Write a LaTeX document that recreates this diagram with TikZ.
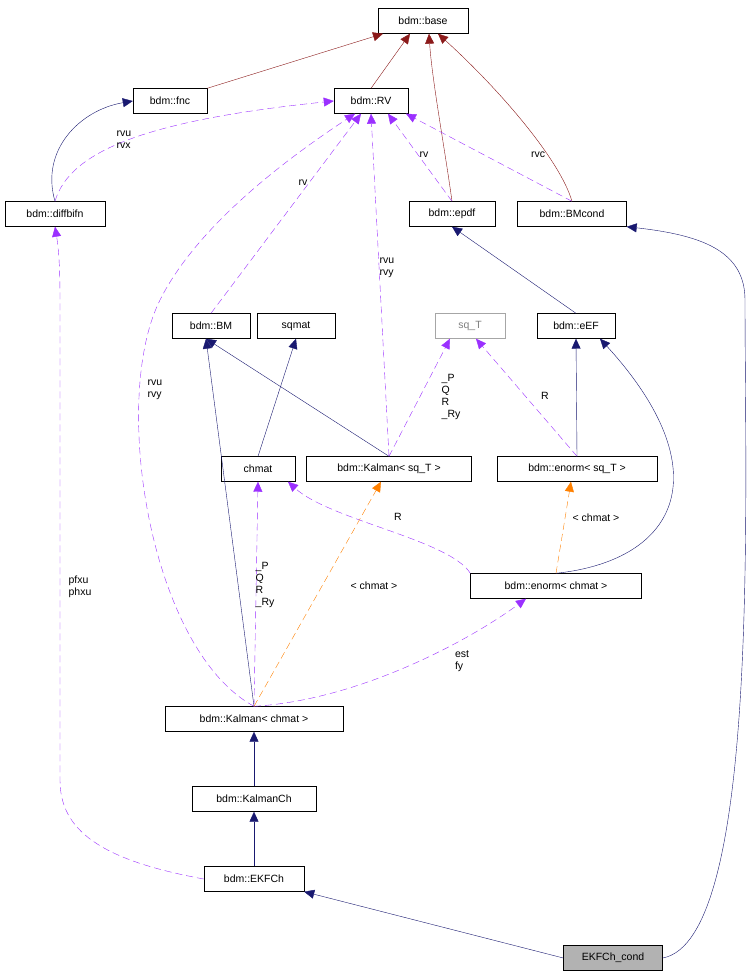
\documentclass[tikz,border=0pt]{standalone}
\usepackage{fontspec}
\setmainfont{Liberation Sans}
\usetikzlibrary{arrows.meta}
\begin{document}
\begin{tikzpicture}[x=1pt,y=-1pt,
  box/.style={draw=black,fill=white,minimum height=25pt,inner xsep=5pt,font=\fontsize{10.5}{12}\selectfont},
  lab/.style={font=\fontsize{10.5}{12}\selectfont,align=left,inner sep=1pt},
  tip/.style={-{Triangle[length=10pt,width=9pt]}},
  inh/.style={tip,draw={rgb,255:red,25;green,25;blue,112},color={rgb,255:red,25;green,25;blue,112}},
  red/.style={tip,color={rgb,255:red,139;green,26;blue,26}},
  use/.style={tip,color={rgb,255:red,155;green,48;blue,255},dash pattern=on 7pt off 4pt},
  tpl/.style={tip,color=orange,dash pattern=on 7pt off 4pt}]
\useasboundingbox (0,0) rectangle (751,979);
\node[box,minimum width=90pt] (base) at (423,21) {bdm::base};
\node[box,minimum width=74pt] (fnc) at (170,101) {bdm::fnc};
\node[box,minimum width=74pt] (RV) at (371,101) {bdm::RV};
\node[box,minimum width=100pt] (diff) at (55,214) {bdm::diffbifn};
\node[box,minimum width=86pt] (epdf) at (452,214) {bdm::epdf};
\node[box,minimum width=109pt] (BMc) at (572,214) {bdm::BMcond};
\node[box,minimum width=78pt] (BM) at (211,326) {bdm::BM};
\node[box,minimum width=78pt] (sqmat) at (296,326) {sqmat};
\node[box,minimum width=70pt,draw=gray!70,text=gray] (sqT) at (470,326) {sq\_T};
\node[box,minimum width=78pt] (eEF) at (576,326) {bdm::eEF};
\node[box,minimum width=74pt] (chmat) at (258,469) {chmat};
\node[box,minimum width=165pt] (KsqT) at (389,469) {bdm::Kalman< sq\_T >};
\node[box,minimum width=160pt] (EsqT) at (577,469) {bdm::enorm< sq\_T >};
\node[box,minimum width=171pt] (Ech) at (556,586) {bdm::enorm< chmat >};
\node[box,minimum width=178pt] (Kch) at (254,719) {bdm::Kalman< chmat >};
\node[box,minimum width=124pt] (KCh) at (254,799) {bdm::KalmanCh};
\node[box,minimum width=100pt] (EKF) at (254,879) {bdm::EKFCh};
\node[box,minimum width=99pt,fill=gray!60] (cond) at (613,958) {EKFCh\_cond};
\coordinate (c1) at (60,780);
\coordinate (c2) at (60,300);
% red
\draw[red] (fnc.north east) -- ([xshift=-40pt]base.south);
\draw[red] (RV.north) -- ([xshift=-13pt]base.south);
\draw[red] (epdf.north) .. controls (445,150) and (432,80) .. ([xshift=6pt]base.south);
\draw[red] (BMc.north) .. controls (560,160) and (500,90) .. ([xshift=15pt]base.south);
% inheritance
\draw[inh] (diff.north) .. controls (40,150) and (80,110) .. (fnc.west);
\draw[inh] (eEF.north) -- (epdf.south);
\draw[inh] (cond.east) .. controls (760,940) and (745,500) .. (745,300) .. controls (745,250) and (700,235) .. (BMc.south east);
\draw[inh] (KsqT.north) -- ([xshift=-5pt]BM.south);
\draw[inh] (chmat.north) -- (sqmat.south);
\draw[inh] (EsqT.north) -- (eEF.south);
\draw[inh] (Ech.north) .. controls (680,560) and (720,470) .. ([xshift=24pt]eEF.south);
\draw[inh] (Kch.north) -- ([xshift=-5pt]BM.south);
\draw[inh] (KCh.north) -- (Kch.south);
\draw[inh] (EKF.north) -- (KCh.south);
\draw[inh] (cond.west) -- (EKF.south east);
% use
\draw[use] (diff.north) .. controls (70,150) and (150,120) .. (RV.west);
\draw[use] (epdf.north) -- ([xshift=17pt]RV.south);
\draw[use] (BMc.north) -- ([xshift=35pt]RV.south);
\draw[use] (BM.north) -- ([xshift=-10pt]RV.south);
\draw[use] (KsqT.north) -- (RV.south);
\draw[use] (Kch.north) .. controls (150,650) and (110,400) .. (160,300) .. controls (200,220) and (300,150) .. ([xshift=-16pt]RV.south);
\draw[use] (KsqT.north) -- ([xshift=-20pt]sqT.south);
\draw[use] (EsqT.north) -- ([xshift=6pt]sqT.south);
\draw[use] (Ech.north west) .. controls (450,540) and (330,520) .. ([xshift=30pt]chmat.south);
\draw[use] (Kch.north) -- (chmat.south);
\draw[use] (Kch.north) .. controls (360,700) and (470,640) .. ([xshift=-30pt]Ech.south);
\draw[use] (EKF.west) .. controls (100,860) and (60,830) .. (c1) -- (c2) .. controls (60,260) and (58,245) .. (diff.south);
\draw[tpl] (Kch.north) -- ([xshift=-8pt]KsqT.south);
\draw[tpl] (Ech.north) -- ([xshift=-6pt]EsqT.south);
% labels
\node[lab] (l1) at (124,140) {rvu\\rvx};
\node[lab] (l2) at (424,155) {rv};
\node[lab] (l3) at (538,155) {rvc};
\node[lab] (l4) at (303,183) {rv};
\node[lab] (l5) at (387,268) {rvu\\rvy};
\node[lab] (l6) at (155,390) {rvu\\rvy};
\node[lab] (l7) at (451,397) {\_P\\ Q\\ R\\\_Ry};
\node[lab] (l8) at (545,396) {R};
\node[lab] (l9) at (398,517) {R};
\node[lab] (l10) at (596,518) {< chmat >};
\node[lab] (l11) at (265,585) {\_P\\ Q\\ R\\\_Ry};
\node[lab] (l12) at (374,586) {< chmat >};
\node[lab] (l13) at (462,661) {est\\ fy};
\node[lab] (l14) at (80,587) {pfxu\\phxu};
\end{tikzpicture}
\end{document}
